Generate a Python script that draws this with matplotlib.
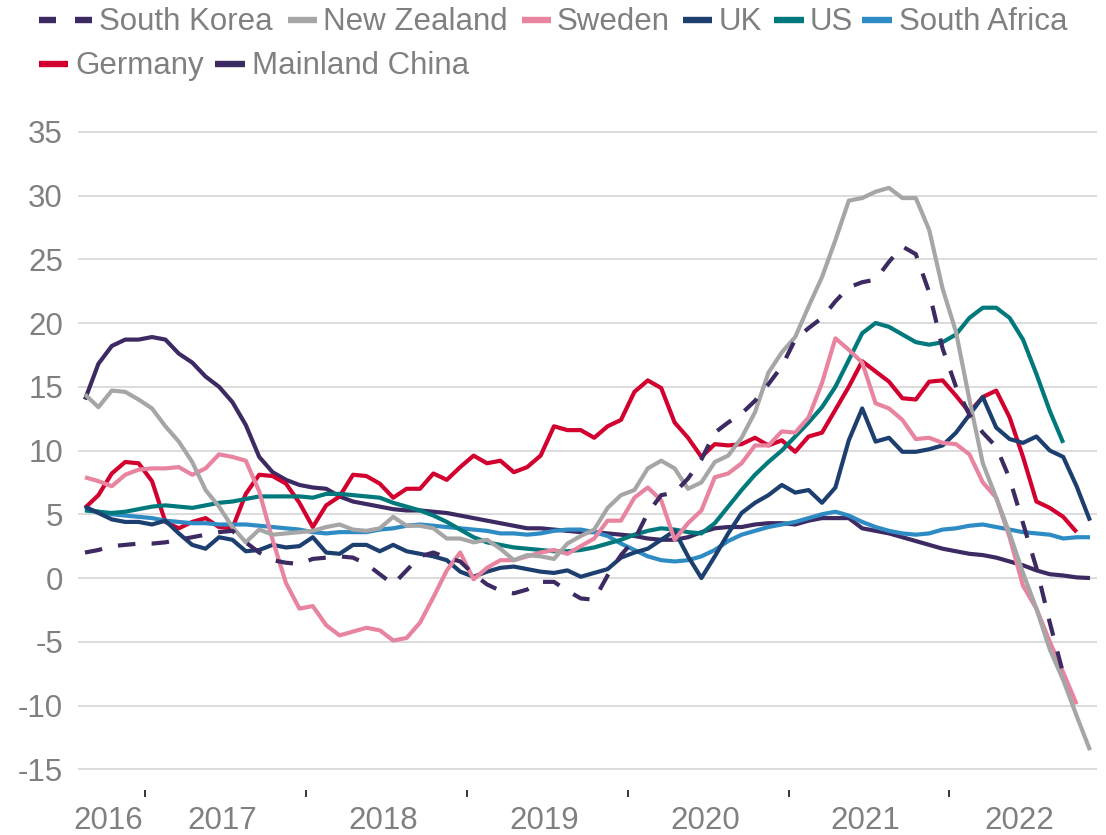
import matplotlib
matplotlib.use("Agg")
import matplotlib.pyplot as plt
from matplotlib.lines import Line2D
import pandas as pd

# Monthly series, Aug 2016 onwards (% year on year)
months = pd.date_range("2016-08-01", periods=76, freq="MS")

south_korea = [2.0, 2.2, 2.5, 2.6, 2.7, 2.7, 2.8, 3.0, 3.2, 3.4,
               3.6, 3.7, 2.8, 2.0, 1.4, 1.2, 1.1, 1.5, 1.6, 1.7,
               1.6, 1.1, 0.3, -0.5, 0.6, 1.7, 2.0, 1.6, 1.3, 0.3,
               -0.5, -1.0, -1.2, -0.9, -0.3, -0.3, -1.0, -1.6, -1.7, 0.2,
               1.8, 3.0, 5.1, 6.5, 6.7, 7.8, 9.3, 11.4, 12.2, 12.9,
               13.9, 15.2, 16.6, 18.7, 19.6, 20.4, 21.7, 22.8, 23.2, 23.4,
               24.8, 26.0, 25.4, 22.4, 18.0, 15.0, 12.8, 11.4, 10.3, 7.8,
               4.3, 0.8, -3.5, -7.5]

new_zealand = [14.4, 13.4, 14.7, 14.6, 14.0, 13.3, 11.9, 10.7, 9.1, 6.9,
               5.6, 4.0, 2.8, 3.8, 3.4, 3.5, 3.6, 3.7, 4.0, 4.2,
               3.8, 3.7, 3.9, 4.8, 4.1, 4.1, 3.9, 3.1, 3.1, 2.8,
               3.0, 2.3, 1.4, 1.8, 1.7, 1.5, 2.7, 3.3, 3.8, 5.5,
               6.5, 6.9, 8.6, 9.2, 8.6, 7.0, 7.5, 9.1, 9.6, 11.0,
               13.0, 16.1, 17.7, 18.9, 21.3, 23.6, 26.5, 29.6, 29.8, 30.3,
               30.6, 29.8, 29.8, 27.3, 22.7, 19.3, 14.0, 9.0, 6.3, 3.5,
               0.4, -2.4, -5.6, -8.0, -10.8, -13.5]

sweden = [7.9, 7.6, 7.2, 8.1, 8.5, 8.6, 8.6, 8.7, 8.1, 8.6,
          9.7, 9.5, 9.2, 6.8, 3.0, -0.4, -2.4, -2.2, -3.7, -4.5,
          -4.2, -3.9, -4.1, -4.9, -4.7, -3.5, -1.5, 0.6, 2.0, -0.1,
          0.8, 1.4, 1.4, 1.7, 2.0, 2.2, 1.9, 2.5, 3.1, 4.5,
          4.5, 6.3, 7.1, 6.1, 3.0, 4.3, 5.3, 7.9, 8.2, 9.0,
          10.4, 10.4, 11.5, 11.4, 12.6, 15.3, 18.8, 17.9, 16.9, 13.7,
          13.3, 12.4, 10.9, 11.0, 10.6, 10.5, 9.7, 7.5, 6.3, 3.2,
          -0.6, -2.4, -5.0, -7.4, -9.9]

uk = [5.6, 5.1, 4.6, 4.4, 4.4, 4.2, 4.5, 3.5, 2.6, 2.3,
      3.2, 3.0, 2.1, 2.2, 2.6, 2.4, 2.5, 3.2, 2.0, 1.9,
      2.6, 2.6, 2.1, 2.6, 2.1, 1.9, 1.7, 1.4, 0.5, 0.1,
      0.5, 0.8, 0.9, 0.7, 0.5, 0.4, 0.6, 0.1, 0.4, 0.7,
      1.6, 2.0, 2.3, 3.0, 3.7, 1.7, 0.0, 1.7, 3.5, 5.1,
      5.9, 6.5, 7.3, 6.7, 6.9, 5.9, 7.1, 10.8, 13.3, 10.7,
      11.0, 9.9, 9.9, 10.1, 10.4, 11.4, 12.8, 14.2, 11.8, 10.9,
      10.6, 11.1, 10.0, 9.5, 7.2, 4.5]

us = [5.3, 5.2, 5.1, 5.2, 5.4, 5.6, 5.7, 5.6, 5.5, 5.7,
      5.9, 6.0, 6.2, 6.4, 6.4, 6.4, 6.4, 6.3, 6.6, 6.6,
      6.5, 6.4, 6.3, 5.9, 5.6, 5.3, 4.9, 4.4, 3.8, 3.2,
      2.8, 2.6, 2.4, 2.3, 2.2, 2.1, 2.1, 2.2, 2.4, 2.7,
      3.0, 3.4, 3.7, 3.9, 3.8, 3.6, 3.5, 4.3, 5.6, 6.9,
      8.1, 9.1, 10.0, 11.1, 12.2, 13.4, 15.0, 17.1, 19.2, 20.0,
      19.7, 19.1, 18.5, 18.3, 18.5, 19.1, 20.4, 21.2, 21.2, 20.4,
      18.7, 16.0, 13.1, 10.6]

south_africa = [5.4, 5.2, 5.0, 4.9, 4.8, 4.7, 4.5, 4.4, 4.3, 4.3,
                4.2, 4.2, 4.2, 4.1, 4.0, 3.9, 3.8, 3.6, 3.5, 3.6,
                3.6, 3.6, 3.8, 3.9, 4.1, 4.2, 4.1, 4.0, 3.9, 3.8,
                3.7, 3.5, 3.5, 3.4, 3.5, 3.7, 3.8, 3.8, 3.6, 3.3,
                2.7, 2.2, 1.7, 1.4, 1.3, 1.4, 1.7, 2.2, 2.9, 3.4,
                3.7, 4.0, 4.2, 4.4, 4.7, 5.0, 5.2, 4.9, 4.4, 4.0,
                3.7, 3.5, 3.4, 3.5, 3.8, 3.9, 4.1, 4.2, 4.0, 3.8,
                3.6, 3.5, 3.4, 3.1, 3.2, 3.2]

germany = [5.5, 6.5, 8.2, 9.1, 9.0, 7.6, 4.4, 3.9, 4.4, 4.7,
           4.0, 3.9, 6.6, 8.1, 8.0, 7.4, 5.9, 4.0, 5.7, 6.4,
           8.1, 8.0, 7.4, 6.3, 7.0, 7.0, 8.2, 7.7, 8.7, 9.6,
           9.0, 9.2, 8.3, 8.7, 9.6, 11.9, 11.6, 11.6, 11.0, 11.9,
           12.4, 14.6, 15.5, 14.9, 12.2, 11.0, 9.5, 10.5, 10.4, 10.5,
           11.0, 10.4, 10.8, 9.9, 11.1, 11.4, 13.2, 15.0, 17.0, 16.2,
           15.4, 14.1, 14.0, 15.4, 15.5, 14.3, 13.0, 14.2, 14.7, 12.6,
           9.5, 6.0, 5.5, 4.8, 3.6]

mainland_china = [14.0, 16.8, 18.2, 18.7, 18.7, 18.9, 18.7, 17.6, 16.9, 15.8,
                  15.0, 13.8, 12.0, 9.5, 8.3, 7.7, 7.3, 7.1, 7.0, 6.4,
                  6.0, 5.8, 5.6, 5.4, 5.3, 5.3, 5.2, 5.1, 4.9, 4.7,
                  4.5, 4.3, 4.1, 3.9, 3.9, 3.8, 3.7, 3.6, 3.6, 3.5,
                  3.4, 3.3, 3.1, 3.0, 3.0, 3.2, 3.6, 3.9, 4.0, 4.0,
                  4.2, 4.3, 4.3, 4.2, 4.5, 4.7, 4.7, 4.7, 3.9, 3.7,
                  3.5, 3.2, 2.9, 2.6, 2.3, 2.1, 1.9, 1.8, 1.6, 1.3,
                  1.0, 0.6, 0.3, 0.2, 0.05, 0.0]

series_names = ["South Korea", "New Zealand", "Sweden", "UK", "US",
                "South Africa", "Germany", "Mainland China"]
series_values = [south_korea, new_zealand, sweden, uk, us,
                 south_africa, germany, mainland_china]
series_colors = ["#3D2A62", "#A6A6A6", "#E8849F", "#1C3F70", "#00797D",
                 "#2E8BC4", "#D2002E", "#3D2A62"]
y_ticks = [-15, -10, -5, 0, 5, 10, 15, 20, 25, 30, 35]

plt.rcParams["font.family"] = ["Liberation Sans", "DejaVu Sans"]
TEXT = "#808080"
FS = 22.5
LW = 3.0
DASH = (4.2, 3.9)

W, H = 1106, 835
fig = plt.figure(figsize=(W / 100, H / 100), dpi=100)

# axes placed in pixel units
px_left, px_right = 78.3, 1096.7
px_top, px_bottom = 119.0, 789.7
ax = fig.add_axes([px_left / W, 1 - px_bottom / H,
                   (px_right - px_left) / W, (px_bottom - px_top) / H])

x = list(range(len(months)))
# later series go underneath, first series on top
for k in reversed(range(len(series_names))):
    vals = series_values[k]
    kw = dict(color=series_colors[k], lw=LW, solid_joinstyle="round",
              solid_capstyle="butt", zorder=3 + (len(series_names) - k))
    if series_names[k] == "South Korea":
        kw.update(ls=(0, DASH), dash_capstyle="butt")
    ax.plot(x[:len(vals)], vals, **kw)

ax.set_xlim(-0.5, len(months) - 0.5)
ax.set_ylim(-16.6, 36)

for s in ax.spines.values():
    s.set_visible(False)

ax.set_yticks(y_ticks)
ax.set_yticklabels([str(v) for v in y_ticks])
ax.yaxis.grid(True, color="#D9D9D9", lw=1.3, zorder=0)
ax.tick_params(axis="y", length=0, pad=11.0, labelsize=FS, labelcolor=TEXT)

# year boundaries as tick marks, year labels centred on each year
years = months.year
bounds = [i - 0.5 for i in range(1, len(months)) if years[i] != years[i - 1]]
year_list = sorted(set(years))
centres = []
for yv in year_list:
    idx = [i for i in range(len(months)) if years[i] == yv]
    centres.append((idx[0] + idx[-1]) / 2 - 0.25)
ax.set_xticks(bounds)
ax.set_xticklabels([""] * len(bounds))
ax.set_xticks(centres, minor=True)
ax.set_xticklabels([str(yv) for yv in year_list], minor=True)
ax.tick_params(axis="x", which="major", length=5.2, width=1.1,
               color="#000000", direction="out")
ax.tick_params(axis="x", which="minor", length=0, pad=11.5,
               labelsize=FS, labelcolor=TEXT)

# legend drawn in two rows along the top
def fx(p):
    return p / W

def fy(p):
    return 1 - p / H

legend_rows = [
    [(0, 39, 92, 99), (1, 288, 317, 323), (2, 522, 551, 557),
     (3, 683, 712, 719), (4, 774, 804, 810), (5, 862, 892, 899)],
    [(6, 39, 68, 75), (7, 215, 245, 252)],
]
row_line_y = [20, 64]
row_base_y = [30, 74]
for r, row in enumerate(legend_rows):
    for k, x0, x1, tx in row:
        lkw = dict(color=series_colors[k], lw=4.6, solid_capstyle="butt",
                   transform=fig.transFigure)
        if series_names[k] == "South Korea":
            half = (x1 - x0) * 0.33
            fig.add_artist(Line2D([fx(x0), fx(x0 + half)],
                                  [fy(row_line_y[r])] * 2, **lkw))
            fig.add_artist(Line2D([fx(x1 - half), fx(x1)],
                                  [fy(row_line_y[r])] * 2, **lkw))
        else:
            fig.add_artist(Line2D([fx(x0), fx(x1)],
                                  [fy(row_line_y[r])] * 2, **lkw))
        fig.text(fx(tx), fy(row_base_y[r]), series_names[k], fontsize=FS,
                 color=TEXT, ha="left", va="baseline")

fig.savefig("out.png", dpi=100)
